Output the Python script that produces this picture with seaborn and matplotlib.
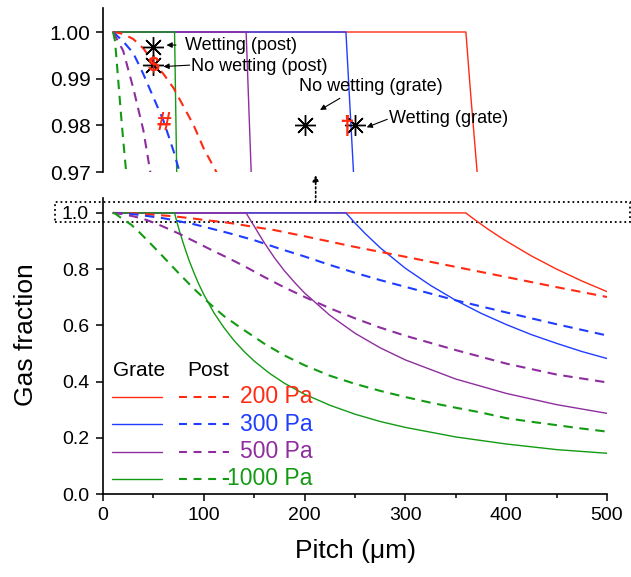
import matplotlib
matplotlib.use("Agg")
import matplotlib.pyplot as plt
import seaborn as sns
import pandas as pd
from matplotlib.patches import Rectangle

sns.set_theme(style="ticks")
plt.rcParams['font.family'] = ['Liberation Sans', 'DejaVu Sans']

# ---------------- data ----------------
pressures = ["200 Pa", "300 Pa", "500 Pa", "1000 Pa"]
colors = ["#FF2A12", "#1F3DFF", "#8E2E9E", "#139A13"]

grate_x_200 = [10, 360, 365, 370, 380, 390, 400, 425, 450, 475, 500]
grate_y_200 = [1.0, 1.0, 0.986, 0.973, 0.947, 0.923, 0.900, 0.847, 0.800, 0.758, 0.720]
grate_x_300 = [10, 241, 245, 250, 260, 275, 300, 325, 350, 375, 400, 425, 450, 475, 500]
grate_y_300 = [1.0, 1.0, 0.984, 0.964, 0.927, 0.876, 0.803, 0.742, 0.689, 0.643, 0.603, 0.567, 0.536, 0.507, 0.482]
grate_x_500 = [10, 142, 147, 150, 155, 160, 170, 180, 190, 200, 225, 250, 275, 300, 350, 400, 450, 500]
grate_y_500 = [1.0, 1.0, 0.970, 0.953, 0.923, 0.894, 0.841, 0.794, 0.753, 0.715, 0.636, 0.572, 0.520, 0.477, 0.409, 0.358, 0.318, 0.287]
grate_x_1000 = [10, 71, 73, 76, 80, 85, 90, 95, 100, 110, 120, 130, 140, 150, 165, 180, 200, 225, 250, 275, 300, 350, 400, 450, 500]
grate_y_1000 = [1.0, 1.0, 0.972, 0.934, 0.888, 0.835, 0.789, 0.747, 0.710, 0.645, 0.592, 0.546, 0.507, 0.473, 0.430, 0.394, 0.355, 0.316, 0.284, 0.258, 0.237, 0.203, 0.178, 0.158, 0.145]

post_x_200 = [10, 20, 30, 40, 50, 60, 70, 80, 90, 100, 110, 120, 130, 140, 150, 170, 200, 250, 300, 350, 400, 450, 500]
post_y_200 = [1.0, 0.9996, 0.9985, 0.9965, 0.9935, 0.991, 0.988, 0.984, 0.980, 0.975, 0.971, 0.967, 0.962, 0.956, 0.950, 0.939, 0.917, 0.879, 0.844, 0.808, 0.772, 0.736, 0.701]
post_x_300 = [10, 20, 30, 40, 50, 60, 70, 80, 90, 100, 112, 125, 140, 150, 175, 200, 225, 250, 275, 300, 350, 400, 450, 500]
post_y_300 = [1.0, 0.998, 0.9955, 0.991, 0.986, 0.981, 0.9745, 0.967, 0.960, 0.951, 0.940, 0.928, 0.913, 0.903, 0.873, 0.845, 0.815, 0.787, 0.761, 0.737, 0.689, 0.646, 0.604, 0.564]
post_x_500 = [10, 20, 30, 40, 50, 60, 75, 90, 110, 125, 140, 160, 180, 200, 225, 250, 275, 300, 350, 400, 450, 500]
post_y_500 = [1.0, 0.996, 0.988, 0.979, 0.966, 0.951, 0.927, 0.900, 0.864, 0.838, 0.811, 0.772, 0.735, 0.701, 0.661, 0.625, 0.592, 0.563, 0.512, 0.464, 0.425, 0.397]
post_x_1000 = [10, 12, 15, 18, 20, 23, 28, 35, 45, 60, 75, 90, 105, 120, 140, 160, 180, 200, 225, 250, 275, 300, 325, 350, 375, 400, 425, 450, 475, 500]
post_y_1000 = [1.0, 0.998, 0.990, 0.982, 0.977, 0.970, 0.958, 0.935, 0.899, 0.843, 0.786, 0.731, 0.680, 0.633, 0.583, 0.535, 0.493, 0.458, 0.421, 0.392, 0.367, 0.345, 0.325, 0.307, 0.290, 0.270, 0.257, 0.245, 0.233, 0.222]

grate_x = [grate_x_200, grate_x_300, grate_x_500, grate_x_1000]
grate_y = [grate_y_200, grate_y_300, grate_y_500, grate_y_1000]
post_x = [post_x_200, post_x_300, post_x_500, post_x_1000]
post_y = [post_y_200, post_y_300, post_y_500, post_y_1000]

# inset markers and labels
star_x = [50, 50, 200, 250]
star_y = [0.99685, 0.99293, 0.98007, 0.98007]
red_sym = ["$", "#", "\u2020"]
red_sym_x = [50, 60, 242]
red_sym_y = [0.9929, 0.9804, 0.9797]
red_sym_size = [15, 19, 19]
note_text = ["Wetting (post)", "No wetting (post)", "No wetting (grate)", "Wetting (grate)"]
note_x = [81, 87, 266, 284]
note_y = [0.9972, 0.99257, 0.98828, 0.9815]
note_ha = ["left", "left", "center", "left"]
arrow_tail = [(72.4, 0.9972), (86, 0.9929), (235, 0.98579), (282, 0.98129)]
arrow_head = [(63, 0.9972), (60, 0.9926), (215.3, 0.98329), (261.6, 0.97958)]

# ---------------- figure ----------------
fig = plt.figure(figsize=(6.31, 5.77), dpi=100)
ax = fig.add_axes([0.1632, 0.1438, 0.7988, 0.513])
ins = fig.add_axes([0.1632, 0.7019, 0.7988, 0.2842])

solid_lw = 1.0
dash_lw = 1.5
dash_pat = (0, (4.5, 3.2))

for a in (ax, ins):
    for i in range(4):
        df = pd.DataFrame({"x": grate_x[i], "y": grate_y[i]})
        sns.lineplot(data=df, x="x", y="y", ax=a, color=colors[i], lw=solid_lw,
                     estimator=None, sort=False)
    for i in range(4):
        df = pd.DataFrame({"x": post_x[i], "y": post_y[i]})
        sns.lineplot(data=df, x="x", y="y", ax=a, color=colors[i], lw=dash_lw,
                     linestyle=dash_pat, estimator=None, sort=False)

# main axes styling
ax.set_xlim(0, 500)
ax.set_ylim(0, 1.053)
ax.set_xticks([0, 100, 200, 300, 400, 500])
ax.set_xticks([50, 150, 250, 350, 450], minor=True)
ax.set_yticks([0.0, 0.2, 0.4, 0.6, 0.8, 1.0])
ax.set_yticklabels(["0.0", "0.2", "0.4", "0.6", "0.8", "1.0"])
ax.tick_params(axis="both", which="major", direction="out", length=5, width=1.1,
               labelsize=14, pad=4, color="black", labelcolor="black")
ax.tick_params(axis="x", which="minor", direction="out", length=3, width=1.1, color="black")
ax.tick_params(axis="y", pad=5)
ax.spines["top"].set_visible(False)
ax.spines["right"].set_visible(False)
for s in ("left", "bottom"):
    ax.spines[s].set_linewidth(1.2)
    ax.spines[s].set_color("black")
ax.set_xlabel("Pitch (\u03bcm)", fontsize=19, labelpad=11, color="black")
ax.set_ylabel("Gas fraction", fontsize=19, color="black")
ax.yaxis.set_label_coords(-0.128, 0.537)

# inset styling
ins.set_xlim(0, 500)
ins.set_ylim(0.97, 1.00514)
ins.set_yticks([0.97, 0.98, 0.99, 1.00])
ins.set_yticklabels(["0.97", "0.98", "0.99", "1.00"])
ins.set_xticks([])
ins.tick_params(axis="y", direction="out", length=5, width=1.1, labelsize=15, pad=4,
                color="black", labelcolor="black")
for s in ("top", "right", "bottom"):
    ins.spines[s].set_visible(False)
ins.spines["left"].set_linewidth(1.2)
ins.spines["left"].set_color("black")
ins.set_xlabel("")
ins.set_ylabel("")
ins.patch.set_alpha(0)

# inset markers and notes
ins.plot(star_x, star_y, linestyle="none", marker=(8, 2, 0), markersize=15,
         markeredgewidth=1.0, color="black")
for s, x, y, fs in zip(red_sym, red_sym_x, red_sym_y, red_sym_size):
    ins.text(x, y, s, color="#FF2A12", fontsize=fs, fontweight="bold",
             ha="center", va="center")
for t, x, y, ha in zip(note_text, note_x, note_y, note_ha):
    ins.text(x, y, t, fontsize=13, ha=ha, va="center", color="black")
for tail, head in zip(arrow_tail, arrow_head):
    ins.annotate("", xy=head, xytext=tail,
                 arrowprops=dict(arrowstyle="-|>", lw=0.8, color="black",
                                 mutation_scale=8, shrinkA=0, shrinkB=0))

# dotted zoom box and arrow
ax.add_patch(Rectangle((-48, 0.968), 571, 0.071, fill=False, ls=":", lw=1.3,
                       ec="black", clip_on=False))
ax.annotate("", xy=(211, 1.135), xytext=(211, 1.039), annotation_clip=False,
            arrowprops=dict(arrowstyle="-|>", ls=":", lw=1.2, color="black",
                            mutation_scale=9, shrinkA=0, shrinkB=0))

# custom legend (axes fraction layout)
tr = ax.transAxes
ax.text(0.019, 0.419, "Grate", fontsize=15, ha="left", va="center", transform=tr, color="black")
ax.text(0.167, 0.419, "Post", fontsize=15, ha="left", va="center", transform=tr, color="black")
rows = [0.329, 0.236, 0.143, 0.051]
for i, yy in enumerate(rows):
    ax.plot([0.017, 0.118], [yy, yy], color=colors[i], lw=solid_lw, transform=tr)
    ax.plot([0.151, 0.250], [yy, yy], color=colors[i], lw=dash_lw,
            linestyle=(0, (3.8, 3.2)), transform=tr)
    ax.text(0.415, yy, pressures[i], color=colors[i], fontsize=16.5, ha="right",
            va="center", transform=tr)

fig.savefig("out.png", dpi=100)
